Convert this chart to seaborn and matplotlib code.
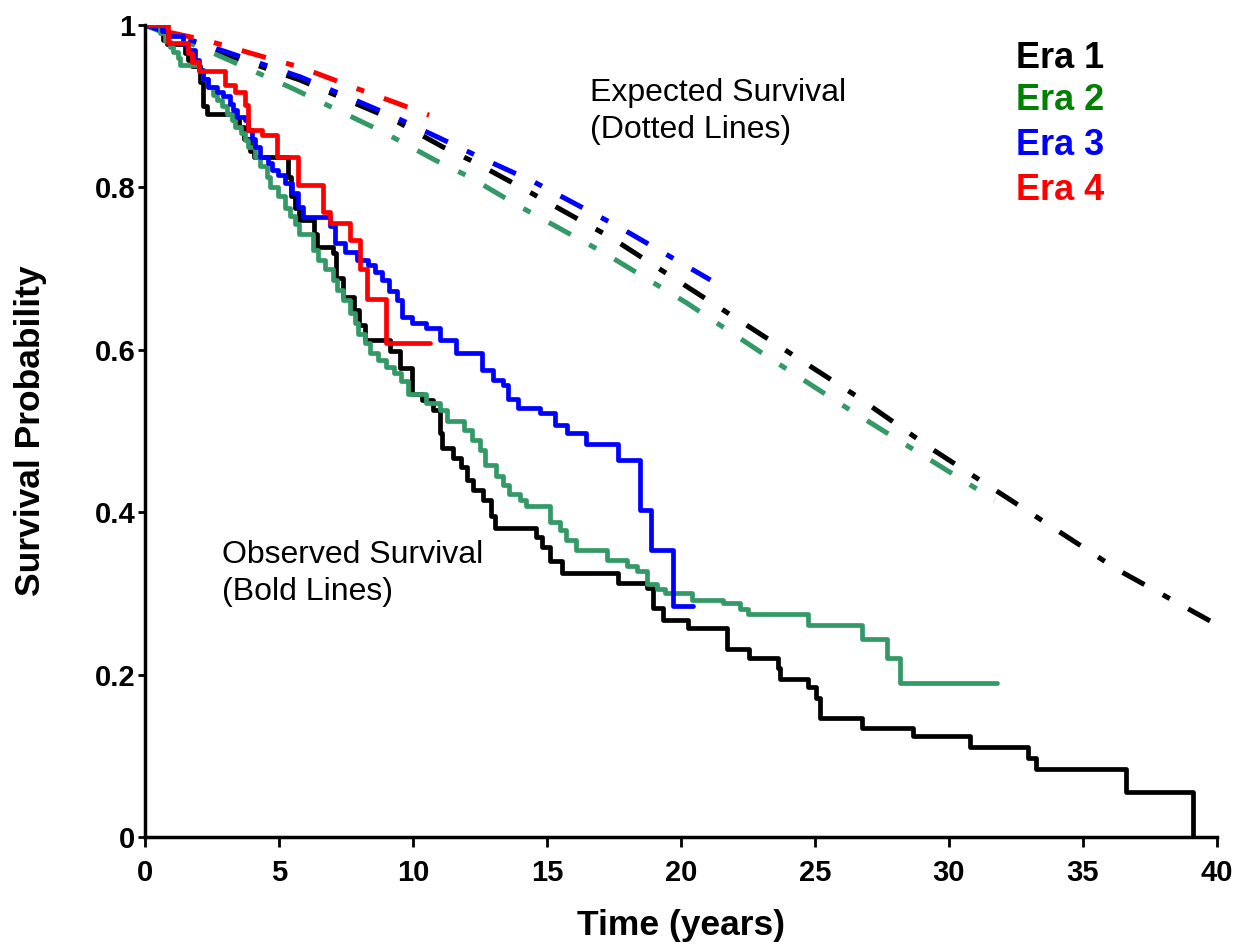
import matplotlib
matplotlib.use("Agg")
import matplotlib.pyplot as plt
import seaborn as sns

# Observed survival (Kaplan-Meier steps): time of each step and survival after it
era1_time = [0, 0.68, 0.81, 1.5, 1.6, 1.75, 2.05, 2.18, 2.3, 3.3, 3.5, 3.7, 3.9, 4.05,
             5.35, 5.45, 5.6, 5.75, 6.3, 6.4, 7.0, 7.13, 7.4, 7.78, 7.97, 8.2, 9.14,
             9.5, 9.95, 10.32, 10.75, 11.0, 11.1, 11.5, 11.8, 12.0, 12.25, 12.6, 12.9,
             13.05, 14.6, 14.8, 15.1, 15.55, 17.66, 18.74, 18.94, 19.34, 20.27, 21.7,
             22.55, 23.63, 23.7, 24.75, 25.04, 25.2, 26.74, 28.67, 30.78, 32.95, 33.25,
             36.6, 39.1]
era1_surv = [1.0, 0.982, 0.976, 0.965, 0.957, 0.95, 0.93, 0.9, 0.89, 0.883, 0.874, 0.86,
             0.845, 0.838, 0.813, 0.79, 0.775, 0.76, 0.743, 0.727, 0.719, 0.688, 0.665,
             0.649, 0.631, 0.612, 0.598, 0.577, 0.546, 0.538, 0.526, 0.498, 0.479, 0.467,
             0.456, 0.44, 0.427, 0.415, 0.395, 0.381, 0.37, 0.357, 0.34, 0.325, 0.313,
             0.307, 0.282, 0.267, 0.257, 0.231, 0.221, 0.208, 0.194, 0.185, 0.171, 0.147,
             0.134, 0.124, 0.111, 0.097, 0.084, 0.055, 0.0]

era2_time = [0, 0.56, 0.75, 0.93, 1.06, 1.24, 1.3, 2.0, 2.18, 2.36, 2.55, 2.67, 2.86,
             3.05, 3.23, 3.36, 3.6, 3.73, 3.86, 4.1, 4.29, 4.54, 4.66, 4.98, 5.22, 5.4,
             5.6, 5.75, 6.28, 6.47, 6.7, 7.03, 7.15, 7.4, 7.65, 7.84, 7.96, 8.2, 8.4,
             8.7, 9.0, 9.3, 9.57, 9.8, 10.5, 11.0, 11.25, 11.9, 12.2, 12.5, 12.7, 13.1,
             13.36, 13.6, 14.0, 14.2, 15.11, 15.5, 15.7, 16.07, 17.23, 17.98, 18.35,
             18.72, 19.1, 19.4, 20.4, 21.58, 22.2, 22.5, 24.75, 26.74, 27.67, 28.17, 31.8]
era2_surv = [1.0, 0.99, 0.98, 0.973, 0.967, 0.959, 0.951, 0.945, 0.934, 0.924, 0.914,
             0.908, 0.9, 0.891, 0.883, 0.875, 0.867, 0.858, 0.85, 0.838, 0.826, 0.813,
             0.8, 0.789, 0.775, 0.765, 0.755, 0.742, 0.723, 0.711, 0.7, 0.686, 0.674,
             0.661, 0.645, 0.633, 0.62, 0.608, 0.596, 0.587, 0.579, 0.571, 0.561, 0.546,
             0.534, 0.526, 0.512, 0.501, 0.489, 0.477, 0.458, 0.444, 0.433, 0.423, 0.415,
             0.408, 0.388, 0.378, 0.366, 0.353, 0.341, 0.334, 0.327, 0.312, 0.306, 0.3,
             0.292, 0.288, 0.281, 0.275, 0.261, 0.244, 0.221, 0.19, 0.19]

era3_time = [0, 0.62, 0.87, 1.43, 1.55, 1.87, 2.0, 2.18, 2.36, 2.67, 2.92, 3.17, 3.3,
             3.42, 3.73, 3.86, 3.98, 4.1, 4.3, 4.6, 4.73, 4.98, 5.22, 5.47, 5.72, 5.9,
             6.9, 7.1, 7.46, 7.9, 8.33, 8.6, 8.84, 9.1, 9.4, 9.6, 9.98, 10.5, 11.0, 11.6,
             12.56, 12.99, 13.36, 13.56, 13.93, 14.74, 15.3, 15.74, 16.46, 17.66, 18.47,
             18.87, 19.69, 20.44]
era3_surv = [1.0, 0.993, 0.986, 0.977, 0.969, 0.957, 0.945, 0.934, 0.924, 0.918, 0.912,
             0.903, 0.895, 0.887, 0.883, 0.871, 0.86, 0.85, 0.838, 0.83, 0.822, 0.815,
             0.805, 0.793, 0.776, 0.764, 0.752, 0.731, 0.72, 0.711, 0.705, 0.696, 0.686,
             0.672, 0.661, 0.641, 0.633, 0.627, 0.612, 0.596, 0.575, 0.563, 0.557, 0.54,
             0.528, 0.522, 0.507, 0.497, 0.484, 0.464, 0.403, 0.354, 0.284, 0.284]

era4_time = [0, 0.85, 1.62, 1.74, 2.0, 2.99, 3.36, 3.73, 3.86, 4.35, 4.91, 5.7, 6.65,
             6.9, 7.65, 8.02, 8.27, 8.99, 10.63]
era4_surv = [1.0, 0.978, 0.965, 0.955, 0.943, 0.926, 0.918, 0.902, 0.871, 0.864, 0.838,
             0.803, 0.77, 0.756, 0.735, 0.7, 0.663, 0.608, 0.608]

# Expected survival (dotted lines)
era1_exp_time = [0, 2.3, 5.8, 9.3, 11.1, 12.3, 14.2, 17.4, 20.4, 23.5, 26.5, 29.4, 32.3,
                 36.3, 39.8]
era1_exp_surv = [1.0, 0.972, 0.932, 0.883, 0.85, 0.831, 0.797, 0.738, 0.674, 0.608,
                 0.544, 0.477, 0.415, 0.329, 0.265]
era2_exp_time = [0, 2.3, 5.5, 8.9, 10.8, 12.1, 13.9, 17.1, 20.2, 23.3, 26.3, 31.7]
era2_exp_surv = [1.0, 0.969, 0.922, 0.868, 0.834, 0.813, 0.778, 0.72, 0.658, 0.59,
                 0.526, 0.415]
era3_exp_time = [0, 2.3, 5.8, 9.3, 11.3, 12.5, 14.5, 17.7, 21.1]
era3_exp_surv = [1.0, 0.975, 0.936, 0.887, 0.856, 0.837, 0.807, 0.751, 0.686]
era4_exp_time = [0.9, 2.3, 4.5, 5.8, 8.05, 9.3, 10.6]
era4_exp_surv = [0.991, 0.981, 0.96, 0.948, 0.92, 0.905, 0.889]

era_names = ["Era 1", "Era 2", "Era 3", "Era 4"]
line_colors = ["#000000", "#339966", "#0000FF", "#FF0000"]
text_colors = ["#000000", "#008000", "#0000FF", "#FF0000"]

sns.set_style("ticks")
plt.rcParams['font.family'] = ['Liberation Sans', 'DejaVu Sans']
plt.rcParams['text.color'] = 'black'
plt.rcParams['axes.labelcolor'] = 'black'
plt.rcParams['xtick.color'] = 'black'
plt.rcParams['ytick.color'] = 'black'

fig = plt.figure(figsize=(12.45, 9.48), dpi=100)
ax = fig.add_axes([145 / 1245, 111 / 948, 1072 / 1245, 812 / 948])

observed = [(era1_time, era1_surv), (era2_time, era2_surv),
            (era3_time, era3_surv), (era4_time, era4_surv)]
expected = [(era1_exp_time, era1_exp_surv), (era2_exp_time, era2_exp_surv),
            (era3_exp_time, era3_exp_surv), (era4_exp_time, era4_exp_surv)]

# expected curves (dash-dot)
for (t, s), c in zip(expected, line_colors):
    sns.lineplot(x=t, y=s, ax=ax, color=c, lw=3.6, estimator=None, sort=False,
                 linestyle=(0, (5.0, 4.2, 1.6, 4.2)))

# observed curves (steps)
for (t, s), c in zip(observed, line_colors):
    sns.lineplot(x=t, y=s, ax=ax, color=c, lw=3.4, estimator=None, sort=False,
                 drawstyle='steps-post')

ax.set_xlim(0, 40)
ax.set_ylim(0, 1)
ax.set_xticks(range(0, 41, 5))
ax.set_yticks([0, 0.2, 0.4, 0.6, 0.8, 1.0])
ax.set_yticklabels(['0', '0.2', '0.4', '0.6', '0.8', '1'])
ax.tick_params(axis='x', labelsize=21, width=2, length=7, pad=9, direction='out')
ax.tick_params(axis='y', labelsize=21, width=2, length=5, pad=2, direction='out')
for lbl in ax.get_xticklabels() + ax.get_yticklabels():
    lbl.set_fontweight('bold')

sns.despine(ax=ax)
for sp in ['left', 'bottom']:
    ax.spines[sp].set_linewidth(2.5)
    ax.spines[sp].set_color('black')

ax.set_xlabel("Time (years)", fontsize=25.5, fontweight='bold', labelpad=16)
ax.set_ylabel("Survival Probability", fontsize=25.5, fontweight='bold', labelpad=34)

ax.text(16.6, 0.935, "Expected Survival\n(Dotted Lines)", fontsize=23, va='top', ha='left',
        linespacing=1.3)
ax.text(2.87, 0.366, "Observed Survival\n(Bold Lines)", fontsize=23, va='top', ha='left',
        linespacing=1.3)

era_y = [0.947, 0.895, 0.84, 0.784]
for name, c, y in zip(era_names, text_colors, era_y):
    ax.text(32.5, y, name, fontsize=26, fontweight='bold', color=c, va='baseline', ha='left')

fig.savefig("out.png", dpi=100)
